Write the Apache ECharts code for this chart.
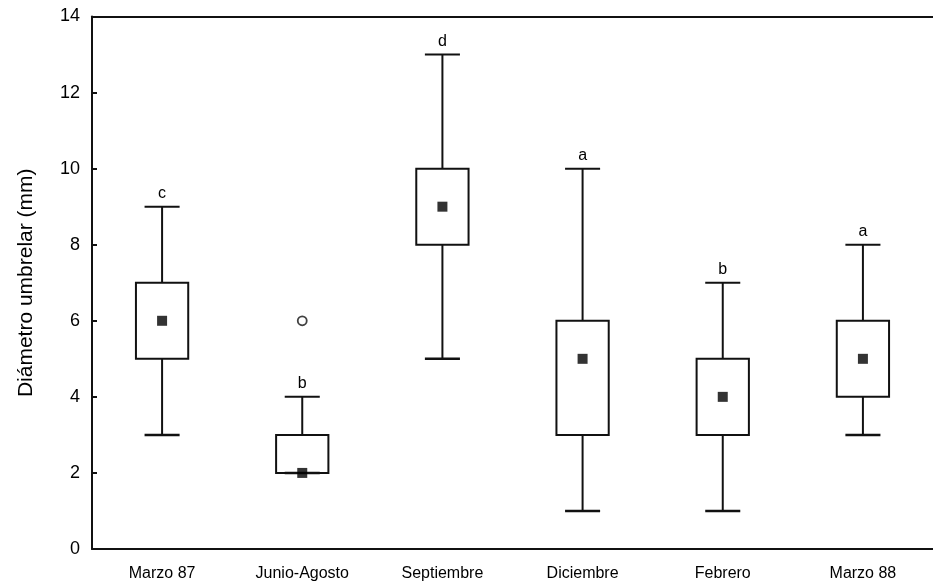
<!DOCTYPE html>
<html>
<head>
<meta charset="utf-8">
<script src="https://cdn.jsdelivr.net/npm/echarts@6/dist/echarts.min.js"></script>
<style>
html,body{margin:0;padding:0;background:#fff;}
#c{width:933px;height:585px;}
</style>
</head>
<body>
<div id="c"></div>
<script>
const categories = ['Marzo 87', 'Junio-Agosto', 'Septiembre', 'Diciembre', 'Febrero', 'Marzo 88'];
const minValues    = [3, 2, 5, 1, 1, 3];
const q1Values     = [5, 2, 8, 3, 3, 4];
const medianValues = [6, 2, 9, 5, 4, 5];
const q3Values     = [7, 3, 10, 6, 5, 6];
const maxValues    = [9, 4, 13, 10, 7, 8];
const letters      = ['c', 'b', 'd', 'a', 'b', 'a'];
const outliers     = [['Junio-Agosto', 6]];
const yTicks       = [0, 2, 4, 6, 8, 10, 12, 14];

const FONT = 'Liberation Sans, Arial, sans-serif';
const INK = '#111';

const boxData = categories.map((c, i) => [i, minValues[i], q1Values[i], medianValues[i], q3Values[i], maxValues[i]]);

const chart = echarts.init(document.getElementById('c'), null, {renderer: 'canvas'});
chart.setOption({
  backgroundColor: '#fff',
  animation: false,
  grid: {left: 92, top: 16.5, width: 848, height: 532.5},
  xAxis: [{
    type: 'category', data: categories, position: 'bottom',
    axisLine: {lineStyle: {color: INK, width: 2}},
    axisTick: {inside: true, length: 5, lineStyle: {color: INK, width: 2}},
    axisLabel: {color: '#000', fontFamily: FONT, fontSize: 16, margin: 17},
    splitLine: {show: false}
  }, {
    type: 'category', data: categories, position: 'top',
    axisLine: {lineStyle: {color: INK, width: 2}},
    axisTick: {inside: true, length: 5, lineStyle: {color: INK, width: 2}},
    axisLabel: {show: false},
    splitLine: {show: false}
  }],
  yAxis: [{
    type: 'value', min: 0, max: 14, interval: 2,
    name: 'Diámetro umbrelar (mm)', nameLocation: 'middle', nameGap: 55,
    nameTextStyle: {color: '#000', fontFamily: FONT, fontSize: 21},
    axisLine: {show: true, lineStyle: {color: INK, width: 2}},
    axisTick: {show: true, inside: true, length: 5, lineStyle: {color: INK, width: 2}},
    axisLabel: {color: '#000', fontFamily: FONT, fontSize: 18, margin: 12,
      formatter: v => yTicks.includes(v) ? String(v) : ''},
    splitLine: {show: false}
  }],
  series: [{
    type: 'custom',
    data: boxData,
    encode: {x: 0, y: [1, 2, 3, 4, 5]},
    renderItem: function (params, api) {
      const i = api.value(0);
      const pMin = api.coord([i, api.value(1)]);
      const pQ1 = api.coord([i, api.value(2)]);
      const pQ3 = api.coord([i, api.value(4)]);
      const pMax = api.coord([i, api.value(5)]);
      const bandW = api.size([1, 0])[0];
      const bw = bandW * 0.373;
      const cw = bandW * 0.25;
      const x = pMin[0];
      const st = {stroke: INK, lineWidth: 2, fill: null};
      return {
        type: 'group',
        children: [
          {type: 'line', shape: {x1: x, y1: pQ3[1], x2: x, y2: pMax[1]}, style: st},
          {type: 'line', shape: {x1: x, y1: pQ1[1], x2: x, y2: pMin[1]}, style: st},
          {type: 'line', shape: {x1: x - cw / 2, y1: pMax[1], x2: x + cw / 2, y2: pMax[1]}, style: st},
          {type: 'rect', shape: {x: x - bw / 2, y: pQ3[1], width: bw, height: pQ1[1] - pQ3[1]},
            style: {stroke: INK, lineWidth: 2, fill: '#fff'}},
          {type: 'line', shape: {x1: x - cw / 2, y1: pMin[1], x2: x + cw / 2, y2: pMin[1]},
            style: {stroke: INK, lineWidth: 2.5, fill: null}},
          {type: 'text', x: x, y: pMax[1] - 5,
            style: {text: letters[i], fill: '#000', font: '16px ' + FONT, align: 'center', verticalAlign: 'bottom'}}
        ]
      };
    },
    z: 2
  }, {
    type: 'scatter',
    data: categories.map((c, i) => [c, medianValues[i]]),
    symbol: 'rect', symbolSize: 10,
    itemStyle: {color: '#000'},
    z: 5
  }, {
    type: 'scatter',
    data: outliers,
    symbol: 'circle', symbolSize: 9,
    itemStyle: {color: '#fff', borderColor: INK, borderWidth: 1.8},
    z: 5
  }]
});
</script>
</body>
</html>
